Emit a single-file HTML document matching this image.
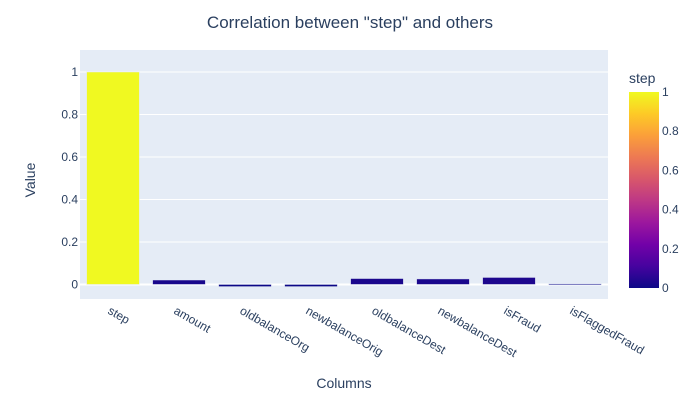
<!DOCTYPE html>
<html><head><meta charset="utf-8"><style>
body{margin:0;background:#fff;}
text{font-family:"Liberation Sans",Arial,sans-serif;}
</style></head><body>
<svg id="chart" width="700" height="400" xmlns="http://www.w3.org/2000/svg">
<defs><linearGradient id="plasma" x1="0" y1="1" x2="0" y2="0">
<stop offset="0" stop-color="#0d0887"/><stop offset="0.111" stop-color="#46039f"/><stop offset="0.222" stop-color="#7201a8"/><stop offset="0.333" stop-color="#9c179e"/><stop offset="0.444" stop-color="#bd3786"/><stop offset="0.556" stop-color="#d8576b"/><stop offset="0.667" stop-color="#ed7953"/><stop offset="0.778" stop-color="#fb9f3a"/><stop offset="0.889" stop-color="#fdca26"/><stop offset="1" stop-color="#f0f921"/>
</linearGradient></defs>
<text x="350" y="28" text-anchor="middle" font-size="17" fill="#2a3f5f">Correlation between "step" and others</text>
<rect x="80" y="50" width="528" height="249" fill="#e5ecf6"/>
<g id="grid"></g><g id="bars"></g><g id="xlabels"></g>
<text transform="translate(35,180) rotate(-90)" text-anchor="middle" font-size="14" fill="#2a3f5f">Value</text>
<text x="344" y="388" text-anchor="middle" font-size="14" fill="#2a3f5f">Columns</text>
<text x="629" y="83" font-size="14" fill="#2a3f5f">step</text>
<rect x="629" y="92" width="30" height="196" fill="url(#plasma)"/>
<g id="cbticks"></g>
</svg>
<script>
const categories=["step","amount","oldbalanceOrg","newbalanceOrig","oldbalanceDest","newbalanceDest","isFraud","isFlaggedFraud"];
const values=[1,0.021,-0.01,-0.01,0.028,0.026,0.033,0.003];
const yTicks=[0,0.2,0.4,0.6,0.8,1];
const yTickLabels=["0","0.2","0.4","0.6","0.8","1"];
const NS="http://www.w3.org/2000/svg";
const yMin=-0.067,yMax=1.1035,plotTop=50,plotBot=298.7,plotLeft=80,plotRight=608;
function yScale(v){return plotBot-(v-yMin)/(yMax-yMin)*(plotBot-plotTop);}
const band=(plotRight-plotLeft)/categories.length;
function xc(i){return plotLeft+band*(i+0.5);}
const stops=["#0d0887","#46039f","#7201a8","#9c179e","#bd3786","#d8576b","#ed7953","#fb9f3a","#fdca26","#f0f921"];
function hex(h){return [1,3,5].map(k=>parseInt(h.substr(k,2),16));}
function plasma(t){t=Math.max(0,Math.min(1,t));const p=t*9,i=Math.min(8,Math.floor(p)),f=p-i;const a=hex(stops[i]),b=hex(stops[i+1]);return "rgb("+a.map((c,k)=>Math.round(c+(b[k]-c)*f)).join(",")+")";}
function mk(tag,attrs,parent){const e=document.createElementNS(NS,tag);for(const k in attrs)e.setAttribute(k,attrs[k]);parent.appendChild(e);return e;}
const grid=document.getElementById("grid");
yTicks.forEach((t,i)=>{
  const l=mk("line",{x1:plotLeft,x2:plotRight,y1:yScale(t),y2:yScale(t),stroke:"#fff","stroke-width":t===0?2:1},grid);
  
  
  const tx=mk("text",{x:plotLeft-2,y:yScale(t)+4,"text-anchor":"end","font-size":12,fill:"#2a3f5f"},grid);
  tx.textContent=yTickLabels[i];
  
  
});
const bars=document.getElementById("bars"),xl=document.getElementById("xlabels");
const bw=band*0.8;
categories.forEach((c,i)=>{
  const v=values[i],y0=yScale(0),y1=yScale(v);
  const r=mk("rect",{x:xc(i)-bw/2,y:Math.min(y0,y1),width:bw,height:Math.max(1,Math.abs(y1-y0)),fill:plasma(v),stroke:"#e5ecf6","stroke-width":0.5},bars);
  
  
  const t=mk("text",{transform:"translate("+(xc(i)-6)+",313) rotate(30)","font-size":12,fill:"#2a3f5f"},xl);
  t.textContent=c;
  
  
});
const cb=document.getElementById("cbticks");
yTicks.forEach((t,i)=>{
  const tx=mk("text",{x:662,y:288-t*196+4,"font-size":12,fill:"#2a3f5f"},cb);
  tx.textContent=yTickLabels[i];
  
  
});
</script>
</body></html>
